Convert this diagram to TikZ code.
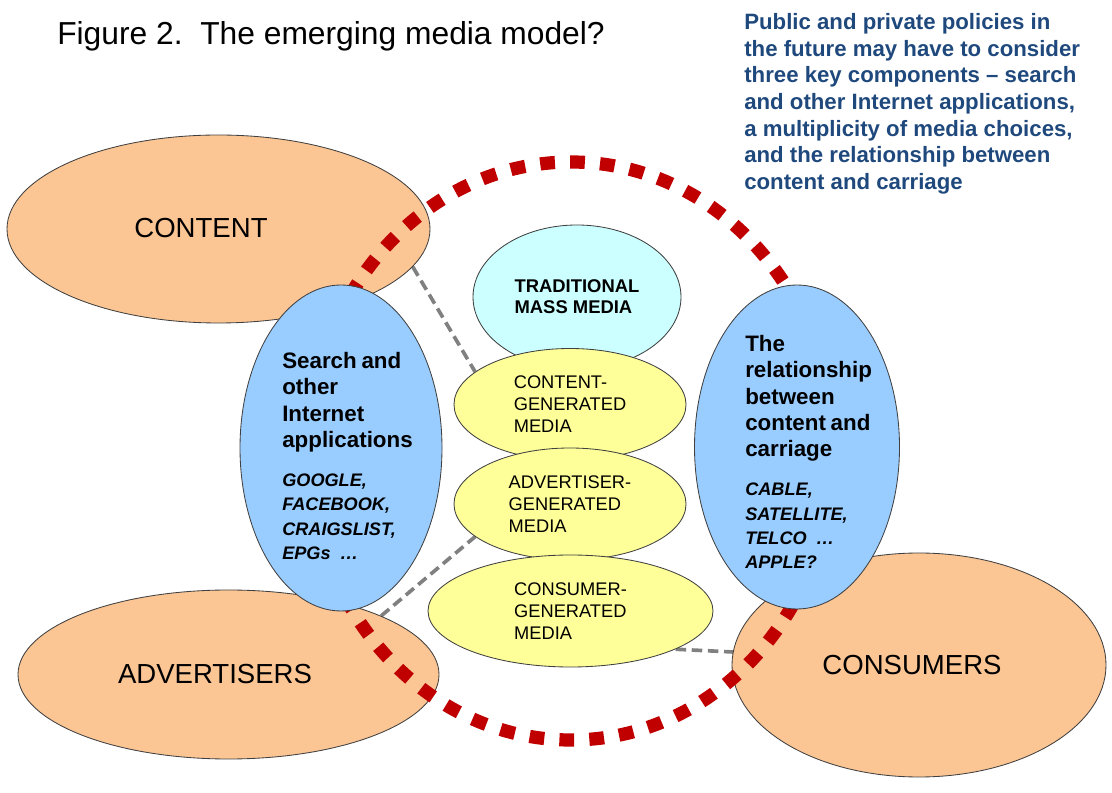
\documentclass[tikz,border=0pt]{standalone}
\usepackage{fontspec}
\setmainfont{Liberation Sans}
\usepackage{xcolor}
\usepackage{tikz}
\usetikzlibrary{shapes.geometric,backgrounds}
\definecolor{orangefill}{RGB}{251,197,148}
\definecolor{bluefill}{RGB}{153,204,255}
\definecolor{cyanfill}{RGB}{204,255,255}
\definecolor{yellowfill}{RGB}{255,255,153}
\definecolor{dotred}{RGB}{192,0,0}
\definecolor{notetext}{RGB}{31,73,125}

\begin{document}
\begin{tikzpicture}[
  blob/.style={ellipse,draw=black!75,line width=0.6pt,inner sep=0pt},
  party/.style={blob,fill=orangefill},
  partylabel/.style={font=\fontsize{19.6}{23}\selectfont},
  player/.style={blob,fill=bluefill},
  playerlabel/.style={anchor=north west,inner sep=0pt,text width=3.6cm,align=left},
  media/.style={blob,fill=yellowfill,align=left,font=\fontsize{13}{15.6}\selectfont},
  link/.style={gray,line width=2.6pt,dash pattern=on 7.5pt off 4pt},
  ring/.style={dotred,line width=9.4pt,dash pattern=on 10.5pt off 10.8pt}
]
\useasboundingbox (0,0) rectangle (27.8,19.8);
% titel og note
\node[anchor=base west,inner sep=0pt,font=\fontsize{22.6}{27}\selectfont] (title) at (1.425,18.675) {Figure 2.\ \ The emerging media model?};
\node[anchor=north west,inner sep=0pt,align=left,text=notetext,font=\bfseries\fontsize{15.8}{19}\selectfont] (note) at (18.6,19.475) {Public and private policies in\\the future may have to consider\\three key components -- search\\and other Internet applications,\\a multiplicity of media choices,\\and the relationship between\\content and carriage};
% de tre parter
\node[party,minimum width=10.575cm,minimum height=4.7cm] (content) at (5.4625,14.075) {};
\node[party,minimum width=10.525cm,minimum height=4.225cm] (advertisers) at (5.7125,2.9375) {};
\node[party,minimum width=9.35cm,minimum height=5.6cm] (consumers) at (22.975,3.175) {};
\node[partylabel] (contentlbl) at (5.025,14.1) {CONTENT};
\node[partylabel] (advertiserslbl) at (5.375,2.9375) {ADVERTISERS};
\node[partylabel] (consumerslbl) at (22.8,3.175) {CONSUMERS};
% prikket ring
\draw[ring] (14.275,8.525) ellipse [x radius=6.55,y radius=7.225];
% blaa
\node[player,minimum width=5.05cm,minimum height=8.15cm] (search) at (8.525,8.6) {};
\node[player,minimum width=5.125cm,minimum height=8.1cm] (carriage) at (19.925,8.625) {};
\node[playerlabel] (searchlbl) at (7.05,11.0) {%
  {\bfseries\fontsize{15.9}{18.7}\selectfont Search and\\other\\Internet\\applications\par}%
  \vspace{10.5pt}%
  {\bfseries\itshape\fontsize{12.9}{17.3}\selectfont GOOGLE,\\FACEBOOK,\\CRAIGSLIST,\\EPGs \ \ldots\par}};
\node[playerlabel] (carriagelbl) at (18.625,11.425) {%
  {\bfseries\fontsize{15.9}{18.7}\selectfont The\\relationship\\between\\content and\\carriage\par}%
  \vspace{10.5pt}%
  {\bfseries\itshape\fontsize{12.9}{17.3}\selectfont CABLE,\\SATELLITE,\\TELCO \ \ldots\\APPLE?\par}};
% medier
\node[blob,fill=cyanfill,align=left,font=\bfseries\fontsize{13.1}{15}\selectfont,minimum width=5.2cm,minimum height=3.6cm] (mass) at (14.425,12.375) {TRADITIONAL\\MASS MEDIA};
\node[media,minimum width=5.8cm,minimum height=2.8cm] (cgm) at (14.25,9.6875) {CONTENT-\\GENERATED\\MEDIA};
\node[media,minimum width=5.8cm,minimum height=2.8cm] (agm) at (14.25,7.2) {ADVERTISER-\\GENERATED\\MEDIA};
\node[media,minimum width=7.125cm,minimum height=2.8cm] (ugm) at (14.2625,4.525) {CONSUMER-\\GENERATED\\MEDIA};
% stiplede forbindelser
\begin{pgfonlayer}{background}
\draw[link] (content.-11) -- (cgm.161);
\draw[link] (advertisers.21) -- (agm.199);
\draw[link] (ugm.-20) -- (consumers.176);
\end{pgfonlayer}
\end{tikzpicture}
\end{document}
